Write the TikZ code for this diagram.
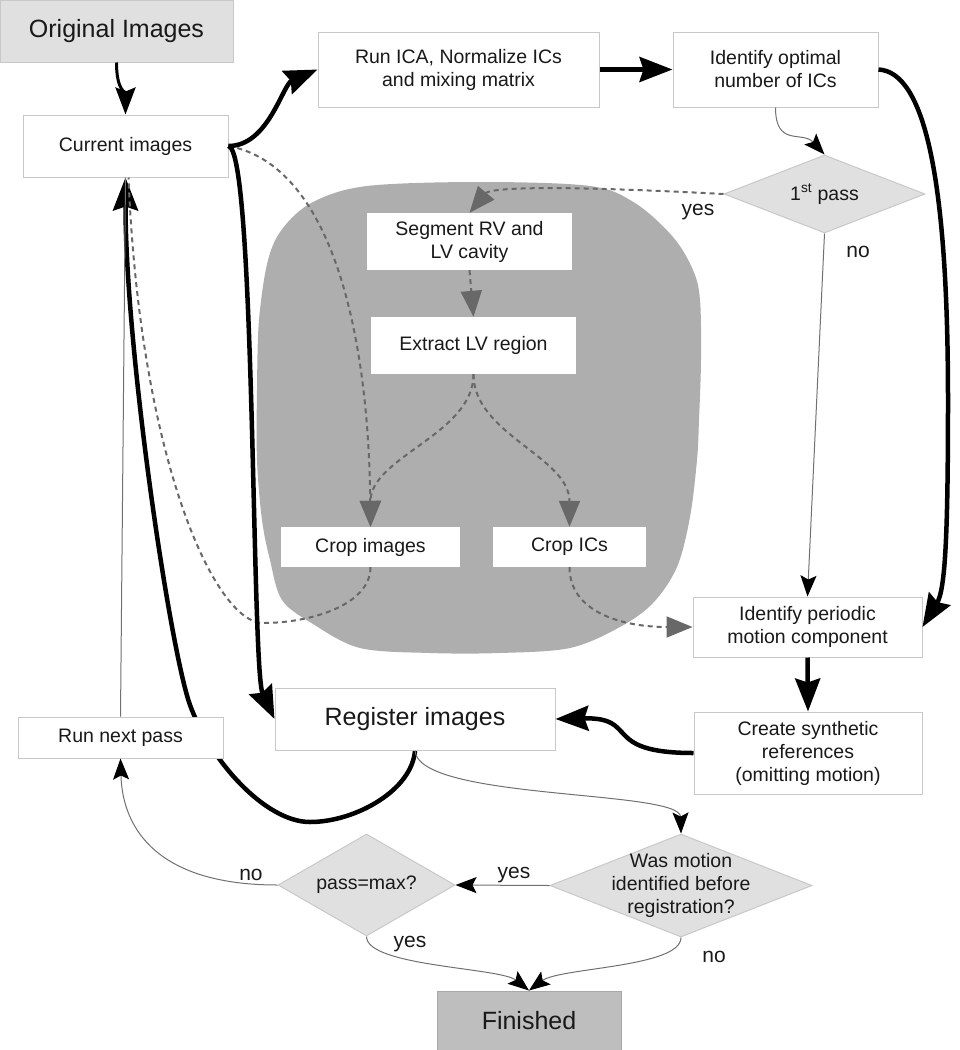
\documentclass[tikz,border=0pt]{standalone}
\usepackage{fontspec}
\setmainfont{Liberation Sans}
\usetikzlibrary{arrows.meta,shapes.geometric}
\pgfdeclarelayer{bg}
\pgfsetlayers{bg,main}
\definecolor{bd}{HTML}{C8C8C8}
\definecolor{lf}{HTML}{E0E0E0}
\definecolor{df}{HTML}{BEBEBE}
\definecolor{fbd}{HTML}{A8A8A8}
\definecolor{blobc}{HTML}{AEAEAE}
\definecolor{dg}{HTML}{686868}
\definecolor{tg}{HTML}{707070}
\begin{document}
\begin{tikzpicture}[x=1pt,y=-1pt,
  every node/.style={font=\fontsize{19.5}{23}\selectfont, align=center, inner sep=0pt, text=black!90},
  box/.style={draw=bd, fill=white, line width=1pt},
  inbox/.style={fill=white},
  dia/.style={diamond, draw=bd, fill=lf, line width=1pt},
  big/.style={font=\fontsize{25}{30}\selectfont},
  lab/.style={font=\fontsize{21}{25}\selectfont},
  med/.style={line width=3pt, -{Stealth[length=27pt,width=20pt,inset=4pt]}},
  thk/.style={line width=4.5pt, -{Stealth[length=33pt,width=25pt,inset=4pt]}},
  tarr/.style={line width=1pt, draw=tg, -{Stealth[length=21pt,width=16pt,inset=4pt,fill=black,color=black]}},
  tline/.style={line width=1pt, draw=tg},
  dsh/.style={line width=2pt, draw=dg, dash pattern=on 5pt off 4pt, -{Triangle[length=26pt,width=21pt,fill=dg,color=dg]}},
  dshn/.style={line width=2pt, draw=dg, dash pattern=on 5pt off 4pt},
]
\useasboundingbox (0,0) rectangle (960,1050);

% gray blob
\begin{pgfonlayer}{bg}
\fill[blobc] plot[smooth cycle, tension=0.55] coordinates {
 (367,186) (480,182) (590,186) (635,203) (673,237) (693,270) (700,300)
 (701,360) (699,420) (697,460) (690,517) (677,567) (653,603) (620,627)
 (570,648) (500,653) (430,653) (360,648) (313,624) (282,600) (270,560)
 (262,520) (257,460) (257,390) (259,320) (268,260) (283,228) (313,202)};
\end{pgfonlayer}

% nodes
\node[box, fill=lf, big, minimum width=233pt, minimum height=62pt] (orig) at (116.5,31) {Original Images};
\node[box, minimum width=205pt, minimum height=62pt] (cur) at (125.5,146) {Current images};
\node[box, minimum width=281pt, minimum height=75pt] (ica) at (458.5,69.5) {Run ICA, Normalize ICs\\and mixing matrix};
\node[box, minimum width=205pt, minimum height=75pt] (opt) at (775.5,69.5) {Identify optimal\\number of ICs};
\node[dia, minimum width=201pt, minimum height=78pt, label={center:1\textsuperscript{st} pass}] (first) at (824.5,194) {};
\node[inbox, minimum width=205pt, minimum height=57pt] (seg) at (469.5,241.5) {Segment RV and\\LV cavity};
\node[inbox, minimum width=205pt, minimum height=57pt] (ext) at (473.5,345.5) {Extract LV region};
\node[inbox, minimum width=179pt, minimum height=40pt] (cimg) at (370.5,547) {Crop images};
\node[inbox, minimum width=153pt, minimum height=40pt] (cics) at (569.5,547) {Crop ICs};
\node[box, minimum width=229pt, minimum height=60pt] (per) at (807.5,627) {Identify periodic\\motion component};
\node[box, big, minimum width=280pt, minimum height=62pt] (reg) at (415,719) {Register images};
\node[box, minimum width=228pt, minimum height=82pt] (syn) at (808,753) {Create synthetic\\references\\(omitting motion)};
\node[box, minimum width=205pt, minimum height=41pt] (next) at (120.5,737.5) {Run next pass};
\node[dia, minimum width=177pt, minimum height=102pt, label={center:pass=max?}] (pmax) at (366.5,885) {};
\node[dia, minimum width=262pt, minimum height=103pt, label={[align=center]center:Was motion\\identified before\\registration?}] (was) at (681,885.5) {};
\node[draw=fbd, fill=df, line width=1pt, big, minimum width=184pt, minimum height=59pt] (fin) at (529,1020.5) {Finished};

% labels
\node[lab] (ly1) at (698,212) {yes};
\node[lab] (ln1) at (858,252) {no};
\node[lab] (ly2) at (514,875) {yes};
\node[lab] (ln2) at (251,875) {no};
\node[lab] (ly3) at (410,944) {yes};
\node[lab] (ln3) at (714,957) {no};

% thick loop back, passing behind the "Run next pass" box
\begin{pgfonlayer}{bg}
\draw[thk] (reg.south) .. controls +(-3,40) and +(45,0) .. (310,822) .. controls +(-45,0) and +(20,55) .. (190,705) .. controls +(-20,-56) and +(0,173) .. (cur.south);
\end{pgfonlayer}

% thin lines
\draw[tline] (next.north) -- (cur.south);
\draw[tarr] (opt.south) .. controls +(0,40) and +(-22,-24) .. (first.north);
\draw[tarr] (first.south) -- (per.north);
\draw[tarr] (reg.south) .. controls +(3,50) and +(-1,-44) .. (was.north);
\draw[tarr] (was.west) -- (pmax.east);
\draw[tarr] (pmax.west) .. controls +(-118,0) and +(2,72) .. (next.south);
\draw[tarr] (pmax.south) .. controls +(0,30) and +(-29,-23) .. (fin.north);
\draw[tarr] (was.south) .. controls +(0,30) and +(31,-23) .. (fin.north);

% dashed
\draw[dsh] (first.west) .. controls +(-190,-10) and +(20,-24) .. (seg.north);
\draw[dsh] (seg.south) -- (ext.north);
\draw[dsh] (ext.south) .. controls +(0,60) and +(0,-70) .. (cimg.north);
\draw[dsh] (ext.south) .. controls +(0,60) and +(0,-70) .. (cics.north);
\draw[dsh] (cur.east) .. controls +(102,19) and +(-2,-197) .. (cimg.north);
\draw[dshn] (cimg.south) .. controls +(0,38) and +(47,0) .. (263,623) .. controls (215,623) and (140,460) .. ([xshift=3pt]cur.south);
\draw[dsh] (cics.south) .. controls +(0,45) and +(-70,0) .. (per.west);

% thick
\draw[med] (orig.south) .. controls +(0,28) and +(0,-22) .. (cur.north);
\draw[thk] (cur.east) .. controls +(40,0) and +(-35,15) .. (ica.west);
\draw[thk] (ica.east) -- (opt.west);
\draw[thk] (opt.east) .. controls (925,72) and (948,180) .. (948,400) .. controls (948,540) and (945,590) .. (per.east);
\draw[thk] (cur.east) .. controls +(27,4) and +(-23,-49) .. (reg.west);
\draw[thk] (per.south) -- (syn.north);
\draw[thk] (syn.west) .. controls +(-94,0) and +(85,-2) .. (reg.east);
\end{tikzpicture}
\end{document}
